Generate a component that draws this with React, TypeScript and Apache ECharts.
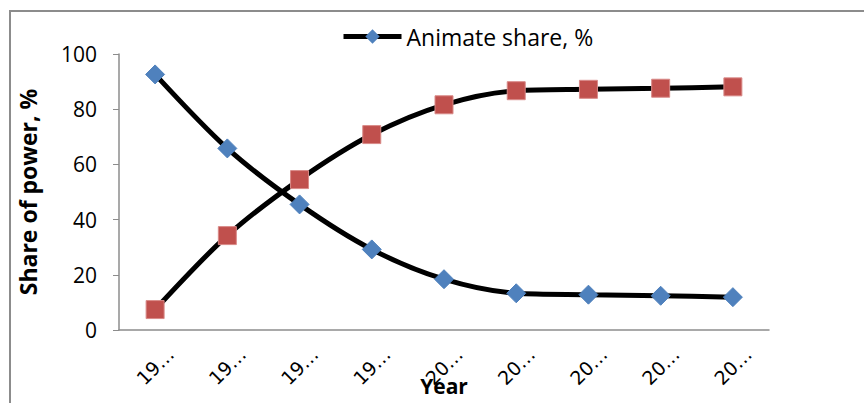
import React, { useEffect, useRef } from "react";
import * as echarts from "echarts";

const categories = ["19…", "19…", "19…", "19…", "20…", "20…", "20…", "20…", "20…"];
const animateShare = [92.6, 65.8, 45.5, 29.2, 18.4, 13.3, 12.8, 12.4, 11.9];
const inanimateShare = [7.4, 34.2, 54.5, 70.8, 81.6, 86.7, 87.2, 87.6, 88.1];
const yTicks = { min: 0, max: 100, interval: 20 };

export default function App() {
  const ref = useRef<HTMLDivElement>(null);
  useEffect(() => {
    if (!ref.current) return;
    const chart = echarts.init(ref.current, undefined, { renderer: "svg" });
    chart.setOption({
      animation: false,
      backgroundColor: "#ffffff",
      textStyle: { fontFamily: "Open Sans" },
      graphic: [
        { type: "line", shape: { x1: 9, y1: 11, x2: 864, y2: 11 }, style: { stroke: "#8c8c8c", lineWidth: 2 } },
        { type: "line", shape: { x1: 10, y1: 10, x2: 10, y2: 403 }, style: { stroke: "#8c8c8c", lineWidth: 2 } },
      ],
      legend: {
        data: ["Animate share, %"],
        top: 20,
        left: 336,
        itemWidth: 58,
        itemHeight: 18,
        itemGap: 3,
        lineStyle: { width: 5, color: "#000" },
        textStyle: { fontSize: 23, color: "#000", fontFamily: "Open Sans" },
      },
      grid: { left: 119, right: 95, top: 54, bottom: 73, outerBoundsMode: "none", containLabel: false },
      xAxis: {
        type: "category",
        data: categories,
        boundaryGap: true,
        axisLine: { lineStyle: { color: "#8c8c8c", width: 1.5 } },
        axisTick: { show: false },
        axisLabel: {
          rotate: 45,
          align: "center",
          verticalAlign: "middle",
          margin: 36,
          fontSize: 19,
          color: "#000",
          fontFamily: "DejaVu Sans",
        },
        name: "Year",
        nameLocation: "middle",
        nameGap: 45,
        nameMoveOverlap: false,
        nameTextStyle: { fontSize: 21, fontWeight: "bold", color: "#000", fontFamily: "Open Sans" },
      },
      yAxis: {
        type: "value",
        min: yTicks.min,
        max: yTicks.max,
        interval: yTicks.interval,
        axisLine: { show: true, lineStyle: { color: "#8c8c8c", width: 1.5 } },
        axisTick: { show: true, length: 6, lineStyle: { color: "#8c8c8c" } },
        splitLine: { show: false },
        axisLabel: { fontSize: 21, color: "#000", margin: 22, fontFamily: "Open Sans" },
        name: "Share of power, %",
        nameLocation: "middle",
        nameRotate: 90,
        nameGap: 80,
        nameMoveOverlap: false,
        nameTextStyle: { fontSize: 23, fontWeight: "bold", color: "#000", fontFamily: "Open Sans" },
      },
      series: [
        {
          name: "Animate share, %",
          type: "line",
          data: animateShare,
          smooth: 0.3,
          symbol: "diamond",
          symbolSize: 19,
          lineStyle: { color: "#000", width: 5 },
          itemStyle: { color: "#4F81BD", borderColor: "#4F81BD" },
          z: 3,
        },
        {
          name: "Inanimate share, %",
          type: "line",
          data: inanimateShare,
          smooth: 0.3,
          symbol: "rect",
          symbolSize: 18,
          lineStyle: { color: "#000", width: 5 },
          itemStyle: { color: "#C0504D", borderColor: "#d98a88", borderWidth: 1 },
          z: 2,
        },
      ],
    });
    return () => chart.dispose();
  }, []);
  return (
    <div
      ref={ref}
      style={{ position: "fixed", left: 0, top: 0, width: 864, height: 403 }}
    />
  );
}
